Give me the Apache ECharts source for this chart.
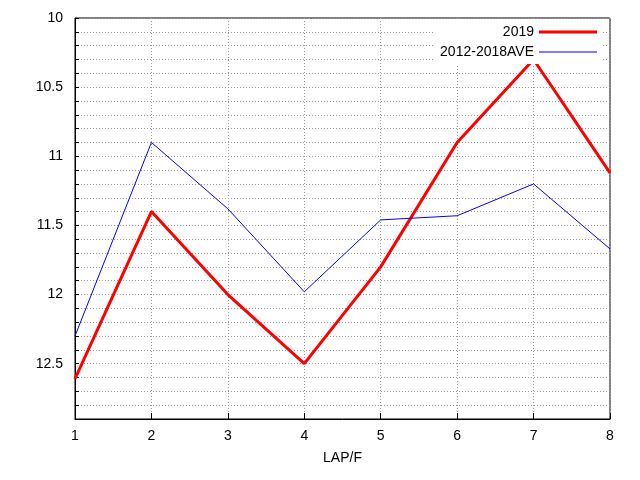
<!DOCTYPE html>
<html><head><meta charset="utf-8">
<script src="https://cdn.jsdelivr.net/npm/echarts@6/dist/echarts.min.js"></script>
<style>html,body{margin:0;padding:0;background:#fff}#c{width:640px;height:480px}</style>
</head><body><div id="c"></div>
<script>
const laps = [1,2,3,4,5,6,7,8];
const s2019 = [12.61,11.40,12.00,12.50,11.80,10.90,10.30,11.12];
const sAve = [12.30,10.90,11.38,11.98,11.46,11.43,11.20,11.67];
const chart = echarts.init(document.getElementById('c'));
const font = 'Liberation Sans, Arial, sans-serif';
chart.setOption({
  animation:false,
  grid:{left:75,right:30,top:18,bottom:61,show:true,borderColor:'#000',borderWidth:1},
  legend:{right:38,top:20,orient:'vertical',align:'right',itemWidth:58,itemHeight:3,itemGap:6,
    textStyle:{fontFamily:font,fontSize:14,color:'#000'},backgroundColor:'#fff',
    data:[{name:'2019',icon:'rect'},{name:'2012-2018AVE',icon:'path://M0,0L0,0M60,3L60,3M0,1H60V2H0Z'}]},
  xAxis:{type:'value',min:1,max:8,interval:1,name:'LAP/F',nameLocation:'middle',nameGap:32,
    nameTextStyle:{fontFamily:font,fontSize:14,color:'#000'},
    axisLine:{lineStyle:{color:'#000'}},axisTick:{inside:true,length:6,lineStyle:{color:'#000'}},
    axisLabel:{fontFamily:font,fontSize:14,color:'#000',margin:10},
    splitLine:{show:true,lineStyle:{color:'#999',type:[1,2]}}},
  yAxis:{type:'value',inverse:true,min:10,max:12.9,interval:0.1,
    axisLine:{lineStyle:{color:'#000'}},
    axisTick:{inside:true,length:4,lineStyle:{color:'#000'}},
    axisLabel:{fontFamily:font,fontSize:14,color:'#000',margin:12,
      formatter:v=>{const r=Math.round(v*10);return r%5===0?String(r/10):'';}},
    splitLine:{show:true,lineStyle:{color:'#999',type:[1,2]}}},
  series:[
    {name:'2019',type:'line',data:laps.map((x,i)=>[x,s2019[i]]),showSymbol:false,color:'#ff0000',lineStyle:{width:3,color:'#ff0000'}},
    {name:'2012-2018AVE',type:'line',data:laps.map((x,i)=>[x,sAve[i]]),showSymbol:false,color:'#0000ff',lineStyle:{width:1,color:'#0000ff'}}
  ]
});
</script></body></html>
